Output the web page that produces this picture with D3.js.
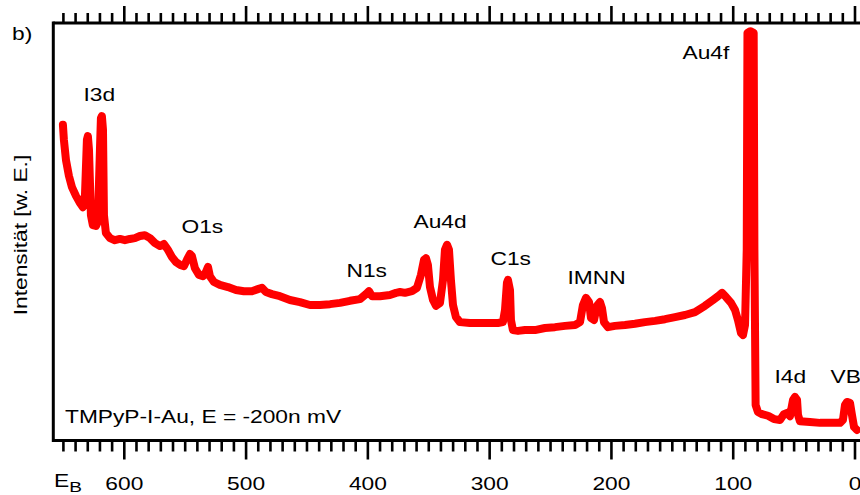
<!DOCTYPE html>
<html>
<head>
<meta charset="utf-8">
<script src="https://cdn.jsdelivr.net/npm/d3@7"></script>
<style>
  html, body { margin: 0; padding: 0; background: #fff; }
  svg { display: block; }
  text { font-family: "Liberation Sans", Arial, Helvetica, sans-serif; fill: #000; }
</style>
</head>
<body>
<svg id="chart" width="860" height="495"></svg>
<script>
// ---- data (binding energy in eV, intensity in arbitrary units) ----
const energy = [
  650.4, 649.6, 647.9, 645.5, 643.0, 639.7, 636.4, 634.0, 632.3, 630.7, 629.9, 629.0,
  627.4, 625.8, 623.3, 621.7, 620.0, 619.2, 618.4, 617.5, 616.7, 615.1, 611.8, 607.7,
  603.6, 599.5, 595.4, 591.3, 587.2, 583.1, 578.9, 574.8, 570.7, 567.5, 564.2, 560.9,
  557.6, 554.3, 551.0, 548.6, 546.1, 544.5, 542.0, 538.7, 535.4, 533.0, 531.3, 529.7,
  526.4, 521.5, 514.9, 508.3, 501.8, 495.2, 490.3, 487.0, 483.7, 478.8, 472.2, 464.0,
  455.8, 447.6, 439.3, 431.1, 422.9, 414.7, 406.5, 401.6, 399.1, 396.6, 390.1, 381.9,
  376.9, 373.6, 369.5, 363.8, 359.7, 356.4, 353.9, 352.3, 350.7, 349.0, 346.5, 344.1,
  340.8, 338.3, 336.7, 335.0, 333.4, 331.8, 330.1, 327.7, 324.4, 316.2, 308.0, 299.7,
  293.2, 289.1, 287.4, 285.8, 285.0, 283.3, 282.5, 280.9, 276.7, 271.0, 262.8, 254.6,
  246.4, 238.1, 229.9, 225.8, 223.4, 220.9, 218.4, 216.8, 214.3, 211.9, 209.4, 207.8,
  206.1, 202.8, 197.1, 188.9, 180.7, 172.5, 164.2, 156.0, 147.8, 139.6, 131.4, 123.2,
  116.6, 112.5, 109.2, 105.9, 101.8, 98.5, 96.1, 93.6, 92.0, 90.3, 88.9, 88.3,
  86.0, 83.2, 82.6, 81.6, 79.7, 76.4, 71.4, 66.5, 61.6, 58.3, 55.8, 53.4,
  50.9, 49.3, 47.6, 46.8, 45.2, 37.0, 28.7, 20.5, 12.3, 9.9, 8.2, 6.6,
  4.1, 2.5, 0.8, -1.6
];
const intensity = [
  75.4, 71.8, 67.0, 63.2, 60.5, 58.4, 56.7, 55.7, 58.6, 71.8, 72.7, 69.4,
  53.8, 51.4, 51.2, 52.2, 69.4, 77.0, 77.5, 74.2, 53.8, 49.5, 48.3, 47.8,
  48.1, 47.8, 48.1, 48.3, 48.8, 49.0, 48.3, 47.1, 46.4, 46.9, 45.5, 43.8,
  42.6, 41.9, 41.6, 43.1, 44.5, 44.0, 41.1, 39.5, 39.2, 40.2, 41.4, 39.2,
  37.8, 37.1, 36.6, 35.9, 35.6, 35.6, 36.1, 36.4, 35.4, 34.9, 34.4, 33.5,
  33.0, 32.3, 32.3, 32.5, 32.8, 33.3, 33.7, 34.9, 35.6, 34.4, 34.4, 34.7,
  35.2, 35.4, 35.2, 35.6, 36.4, 39.5, 43.1, 43.5, 41.9, 36.6, 33.5, 32.1,
  32.8, 38.3, 45.5, 46.7, 45.5, 38.3, 32.3, 29.4, 28.2, 28.0, 28.0, 28.0,
  28.0, 28.2, 31.1, 37.6, 38.3, 35.9, 28.7, 26.3, 26.1, 26.3, 26.3, 26.8,
  27.0, 27.3, 27.5, 28.2, 32.3, 34.0, 33.0, 29.2, 28.7, 32.1, 33.0, 31.6,
  28.2, 27.0, 27.3, 27.5, 27.8, 28.2, 28.5, 28.9, 29.4, 29.9, 30.6, 32.1,
  33.5, 34.4, 35.2, 34.2, 32.8, 31.1, 28.7, 25.6, 25.1, 27.5, 45.5, 97.4,
  97.8, 97.4, 45.5, 8.4, 6.7, 6.2, 5.8, 5.0, 4.8, 6.2, 6.5, 5.7,
  9.6, 10.3, 9.6, 6.0, 4.5, 4.3, 4.1, 4.1, 4.1, 4.8, 8.4, 9.1,
  8.9, 6.0, 3.1, 2.4
];

const majorTicks = [600, 500, 400, 300, 200, 100, 0];
const minorTicks = d3.range(0, 660, 10);

const peakLabels = ["I3d", "O1s", "N1s", "Au4d", "C1s", "IMNN", "Au4f", "I4d", "VB"];
const peakLabelEnergy = [633.5, 553.0, 417.5, 362.5, 299.3, 236.1, 141.6, 66.1, 20.1];
const peakLabelIntensity = [81.2, 49.5, 39.0, 50.7, 41.9, 37.3, 91.1, 13.6, 13.6];

const panelLabel = "b)";
const sampleLabel = "TMPyP-I-Au, E = -200n mV";
const yAxisTitle = "Intensität [w. E.]";

// ---- layout ----
const svg = d3.select("#chart");
const plotLeft = 53.3, plotRight = 855, plotTop = 23, plotBottom = 440.5;
const fontSize = 18.5, stretch = 1.23;

const x = d3.scaleLinear().domain([658.3, 0]).range([plotLeft, plotRight]);
const y = d3.scaleLinear().domain([0, 100]).range([440, 22]);

// ---- data line ----
const pts = energy.map((e, i) => [e, intensity[i]]);
const line = d3.line().x(d => x(d[0])).y(d => y(d[1]));
svg.append("path")
  .datum(pts)
  .attr("d", line)
  .attr("fill", "none")
  .attr("stroke", "#ff0000")
  .attr("stroke-width", 8)
  .attr("stroke-linejoin", "round")
  .attr("stroke-linecap", "round");

// ---- frame ----
const frame = svg.append("g").attr("stroke", "#000").attr("fill", "none");
frame.append("line").attr("x1", plotLeft).attr("x2", 870).attr("y1", plotTop).attr("y2", plotTop).attr("stroke-width", 3);
frame.append("line").attr("x1", plotLeft).attr("x2", 870).attr("y1", plotBottom).attr("y2", plotBottom).attr("stroke-width", 3);
frame.append("line").attr("x1", plotLeft).attr("x2", plotLeft).attr("y1", plotTop - 1.5).attr("y2", plotBottom + 1.5).attr("stroke-width", 3);

// ---- ticks (top: upward, bottom: downward) ----
const isMajor = v => majorTicks.includes(v);
const tickG = svg.append("g").attr("stroke", "#000").attr("stroke-width", 2.6);
tickG.selectAll("line.bt").data(minorTicks).join("line")
  .attr("class", "bt")
  .attr("x1", d => x(d)).attr("x2", d => x(d))
  .attr("y1", plotBottom).attr("y2", d => plotBottom + (isMajor(d) ? 19 : 11));
tickG.selectAll("line.tt").data(minorTicks).join("line")
  .attr("class", "tt")
  .attr("x1", d => x(d)).attr("x2", d => x(d))
  .attr("y1", plotTop).attr("y2", d => plotTop - (isMajor(d) ? 17 : 10));

// ---- tick labels ----
svg.selectAll("text.tick").data(majorTicks).join("text")
  .attr("class", "tick")
  .attr("transform", d => `translate(${x(d)},490) scale(${stretch},1)`)
  .attr("text-anchor", "middle")
  .attr("font-size", fontSize)
  .text(d => d);

// E_B
const eb = svg.append("text")
  .attr("transform", `translate(54,487) scale(${stretch},1)`)
  .attr("font-size", fontSize);
eb.append("tspan").text("E");
eb.append("tspan").attr("font-size", 15.5).attr("dy", 5).text("B");

// ---- y axis title ----
svg.append("text")
  .attr("transform", `translate(27,235) rotate(-90) scale(${stretch},1)`)
  .attr("text-anchor", "middle")
  .attr("font-size", fontSize)
  .text(yAxisTitle);

// ---- panel and sample labels ----
svg.append("text")
  .attr("transform", `translate(12,40) scale(${stretch},1)`)
  .attr("font-size", fontSize)
  .text(panelLabel);

svg.append("text")
  .attr("transform", `translate(65,423) scale(${stretch},1)`)
  .attr("font-size", fontSize)
  .text(sampleLabel);

// ---- peak labels ----
svg.selectAll("text.peak").data(peakLabels).join("text")
  .attr("class", "peak")
  .attr("transform", (d, i) => `translate(${x(peakLabelEnergy[i])},${y(peakLabelIntensity[i])}) scale(${stretch},1)`)
  .attr("font-size", fontSize)
  .text(d => d);
</script>
</body>
</html>
